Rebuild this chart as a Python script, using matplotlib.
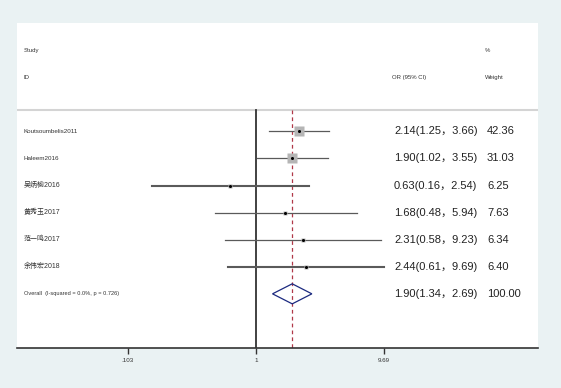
import matplotlib
matplotlib.use("Agg")
import matplotlib.pyplot as plt
from matplotlib.patches import Polygon
from matplotlib.transforms import blended_transform_factory

studies = ["Koutsoumbelis2011", "Haleem2016", "吴炳榆2016", "黄秀玉2017", "范一鸣2017", "余伟宏2018"]
or_est = [2.14, 1.90, 0.63, 1.68, 2.31, 2.44]
ci_lo = [1.25, 1.02, 0.16, 0.48, 0.58, 0.61]
ci_hi = [3.66, 3.55, 2.54, 5.94, 9.23, 9.69]
weights = [42.36, 31.03, 6.25, 7.63, 6.34, 6.40]

overall_label = "Overall  (I-squared = 0.0%, p = 0.726)"
overall_est = 1.90
overall_lo = 1.34
overall_hi = 2.69
overall_weight = 100.00

tick_vals = [0.103, 1, 9.69]
tick_labels = [".103", "1", "9.69"]

bg = "#eaf2f3"
fam = ["Liberation Sans", "Noto Sans CJK SC", "DejaVu Sans"]
plt.rcParams["font.family"] = fam

fig = plt.figure(figsize=(5.61, 3.88), dpi=100, facecolor=bg)
ax = fig.add_axes([17 / 561, 1 - 348 / 388, 521 / 561, 325 / 388])
ax.set_facecolor("white")
ax.set_xscale("log")
ax.set_xlim(10 ** -1.838, 10 ** 2.169)
ax.set_ylim(8, -4)

for s in ["top", "left", "right"]:
    ax.spines[s].set_visible(False)
ax.spines["bottom"].set_color("#333333")
ax.spines["bottom"].set_linewidth(1.2)
ax.set_yticks([])
ax.set_xticks(tick_vals)
ax.set_xticklabels(tick_labels, fontsize=4.5, color="#333333")
ax.minorticks_off()
ax.tick_params(axis="x", direction="out", length=4, width=1, color="#333333", pad=3)

tr = blended_transform_factory(ax.transAxes, ax.transData)

# header
ax.axhline(-0.78, color="#d4d4d4", lw=1.5)
ax.text(0.0125, -3, "Study", fontsize=4.3, color="#333333", va="center", transform=tr)
ax.text(0.0125, -2, "ID", fontsize=4.3, color="#333333", va="center", transform=tr)
ax.text(0.7198, -2, "OR (95% CI)", fontsize=4.3, color="#333333", va="center", transform=tr)
ax.text(0.8985, -3, "%", fontsize=4.3, color="#333333", va="center", transform=tr)
ax.text(0.8985, -2, "Weight", fontsize=4.3, color="#333333", va="center", transform=tr)

# reference lines
ax.plot([1, 1], [-0.78, 8], color="#333333", lw=1.3, zorder=2)
ax.plot([overall_est, overall_est], [-0.78, 8], color="#b03848", lw=0.9,
        dashes=(3, 2.5), zorder=2)

for i, name in enumerate(studies):
    lw = 1.5 if i in (2, 5) else 0.9
    ax.plot([ci_lo[i], ci_hi[i]], [i, i], color="#5a5a5a", lw=lw, zorder=3)
    side = 7.9 * (weights[i] / weights[0]) ** 0.5
    ax.plot(or_est[i], i, marker="s", ms=side, color="#b5b5b5", mec="none", zorder=4)
    ax.plot(or_est[i], i, marker="o", ms=2.2, color="black", mec="none", zorder=5)
    fs = 4.5 if name[0].isascii() else 5
    ax.text(0.0125, i, name, fontsize=fs, color="#333333", va="center", transform=tr)
    ax.text(0.7236, i, "%.2f(%.2f，%.2f)" % (or_est[i], ci_lo[i], ci_hi[i]),
            fontsize=8, color="#222222", va="center", transform=tr)
    ax.text(0.902, i, "%.2f" % weights[i], fontsize=8, color="#222222",
            va="center", transform=tr)

n = len(studies)
half = 0.37
diamond = Polygon([(overall_lo, n), (overall_est, n - half), (overall_hi, n),
                   (overall_est, n + half)], closed=True, fill=False,
                  edgecolor="#1c2a80", lw=0.9, zorder=4)
ax.add_patch(diamond)
ax.text(0.0125, n, overall_label, fontsize=4.1, color="#333333", va="center", transform=tr)
ax.text(0.7236, n, "%.2f(%.2f，%.2f)" % (overall_est, overall_lo, overall_hi),
        fontsize=8, color="#222222", va="center", transform=tr)
ax.text(0.902, n, "%.2f" % overall_weight, fontsize=8, color="#222222",
        va="center", transform=tr)

fig.savefig("out.png", dpi=100, facecolor=bg)
